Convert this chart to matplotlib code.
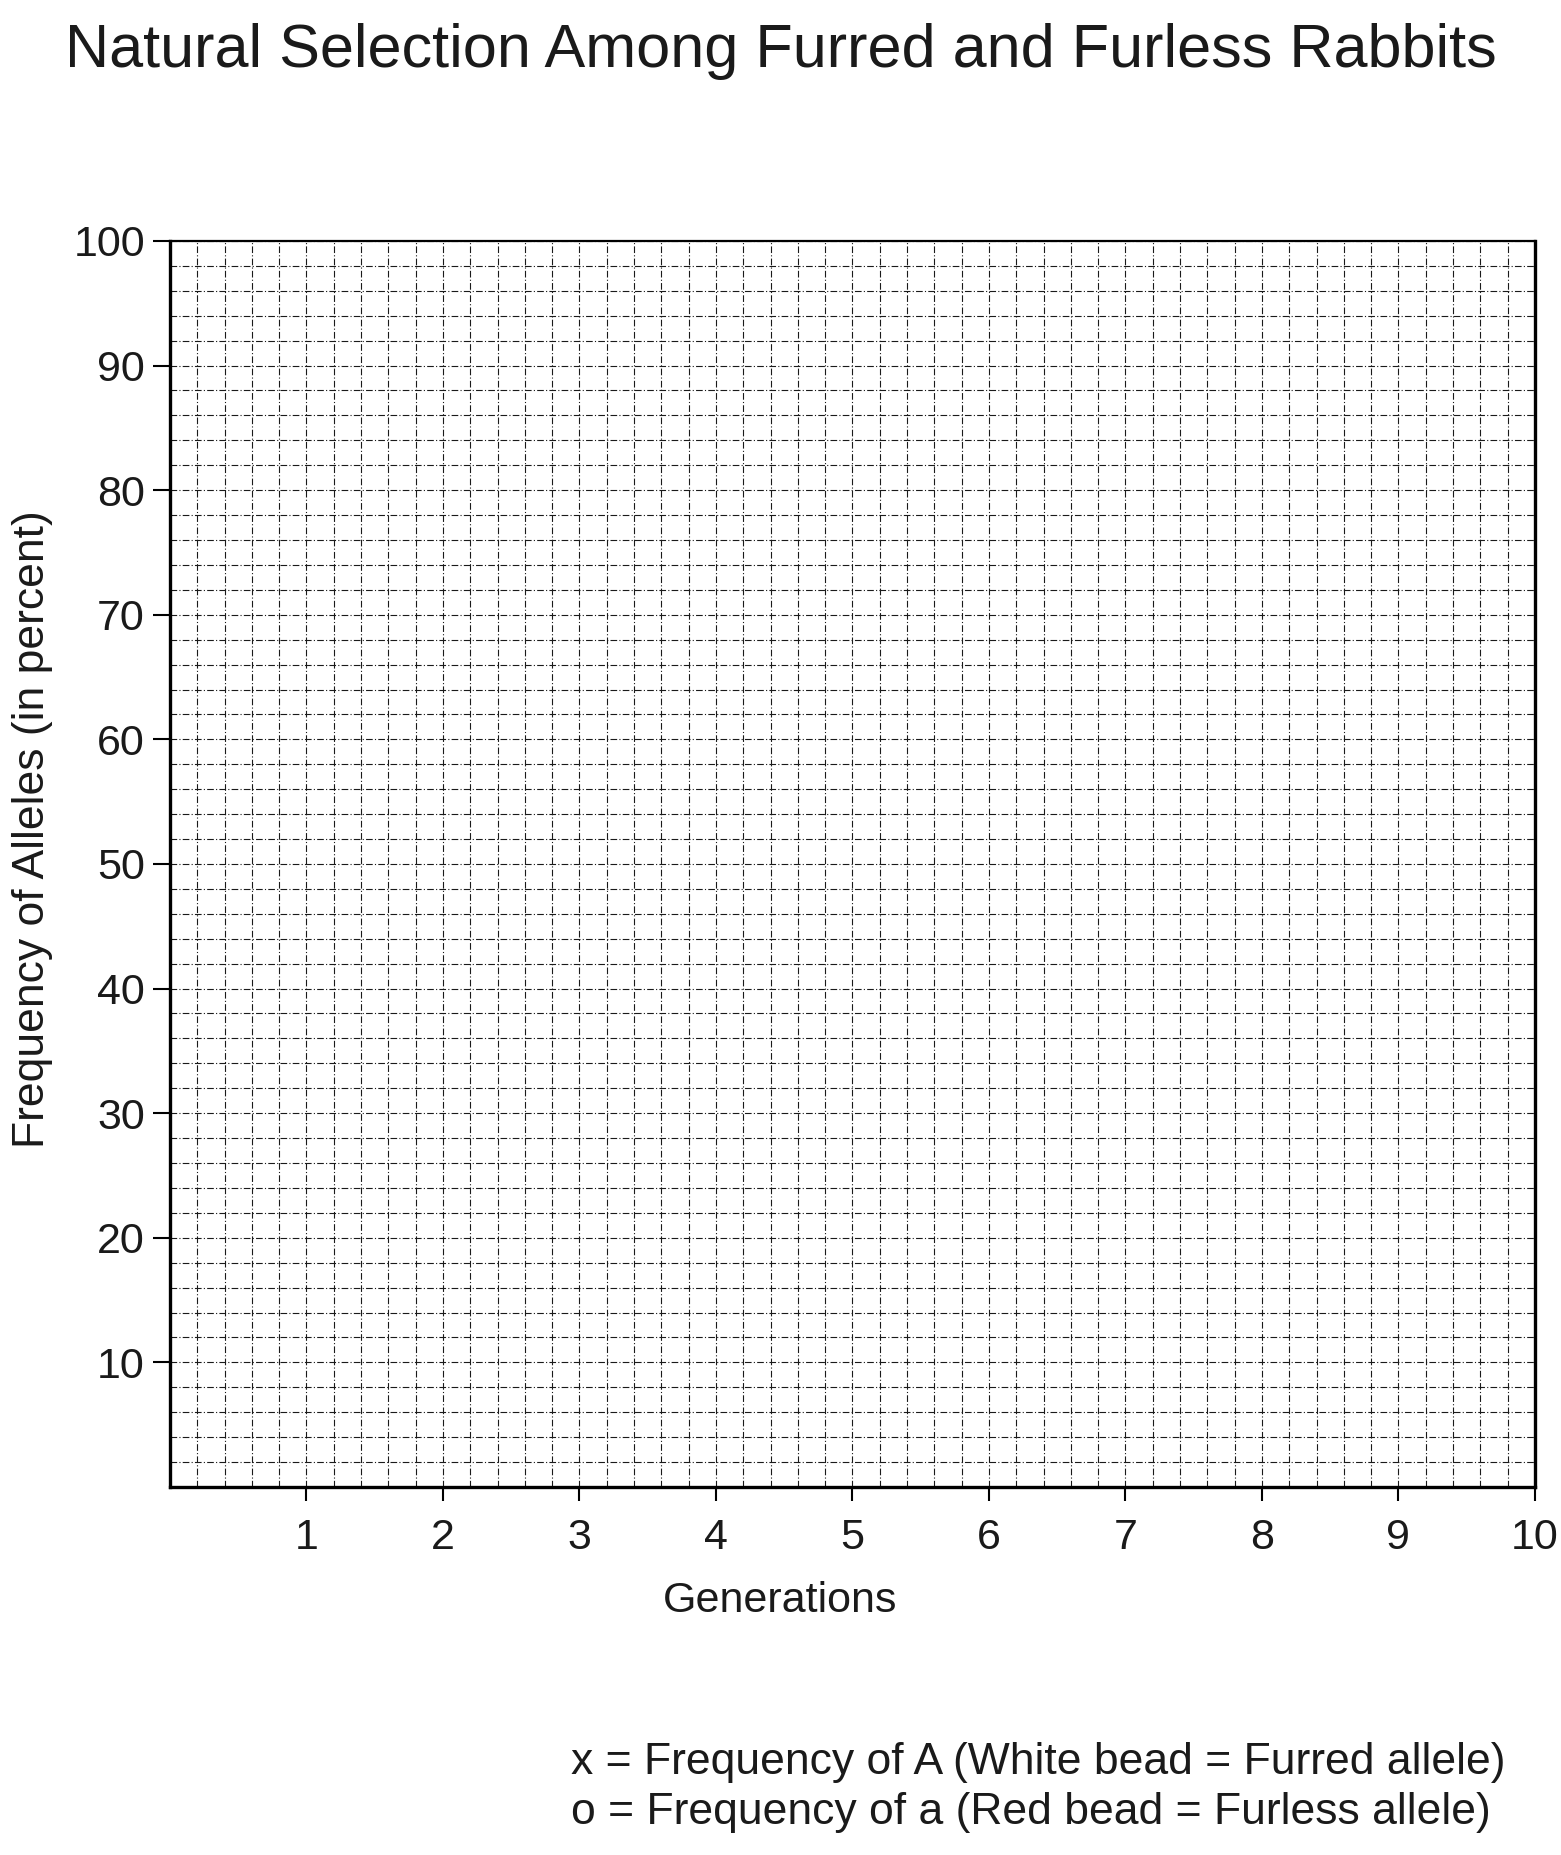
import matplotlib
matplotlib.use("Agg")
import matplotlib.pyplot as plt
from matplotlib.ticker import MultipleLocator

plt.rcParams['font.family'] = ['Liberation Sans', 'DejaVu Sans']

# Axis content (empty worksheet graph)
generations = [1, 2, 3, 4, 5, 6, 7, 8, 9, 10]
freq_ticks = [10, 20, 30, 40, 50, 60, 70, 80, 90, 100]
title = "Natural Selection Among Furred and Furless Rabbits"
x_label = "Generations"
y_label = "Frequency of Alleles (in percent)"
key_lines = ["x = Frequency of A (White bead = Furred allele)",
             "o = Frequency of a (Red bead = Furless allele)"]

fig = plt.figure(figsize=(15.61, 18.55), dpi=100)
ax = fig.add_axes([0.1089, 0.1984, 0.8744, 0.6717])

ax.set_xlim(0, 10)
ax.set_ylim(0, 100)
ax.set_xticks(generations)
ax.set_xticklabels([str(g) for g in generations])
ax.set_yticks(freq_ticks)
ax.set_yticklabels([str(f) for f in freq_ticks])
ax.xaxis.set_minor_locator(MultipleLocator(0.2))
ax.yaxis.set_minor_locator(MultipleLocator(2))

# graph paper grid
ax.grid(which='both', color='#1a1a1a', linestyle=(0, (6, 2, 1, 2)), linewidth=0.8)
ax.set_axisbelow(True)

for side in ['left', 'bottom', 'right']:
    ax.spines[side].set_linewidth(2.4)
ax.spines['top'].set_linewidth(1.6)

ax.tick_params(axis='both', which='minor', length=0)
ax.tick_params(axis='y', which='major', length=12, width=1.5, pad=6, labelsize=31, labelcolor='#1a1a1a')
ax.tick_params(axis='x', which='major', length=10, width=1.5, pad=12, labelsize=31, labelcolor='#1a1a1a')

fig.text(0.5, 0.972, title, ha='center', va='center', fontsize=44, color='#1a1a1a')
fig.text(0.5, 0.137, x_label, ha='center', va='center', fontsize=31, color='#1a1a1a')
fig.text(0.021, 0.553, y_label, ha='center', va='center', rotation=90, fontsize=32, color='#1a1a1a')

fig.text(0.366, 0.050, key_lines[0], ha='left', va='center', fontsize=32, color='#1a1a1a')
fig.text(0.366, 0.023, key_lines[1], ha='left', va='center', fontsize=32, color='#1a1a1a')

fig.savefig("out.png", dpi=100)
